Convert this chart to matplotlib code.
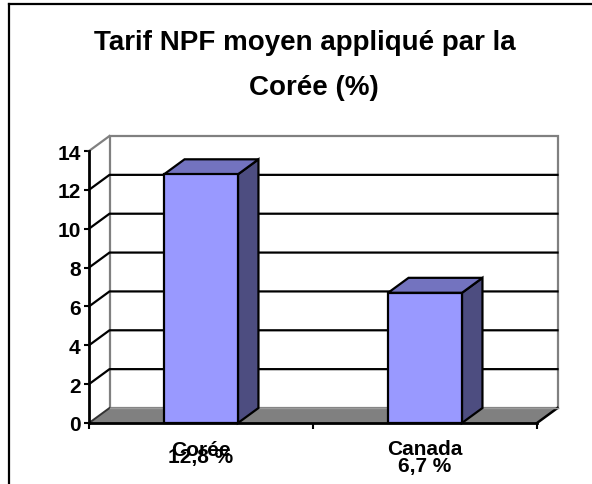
import matplotlib
matplotlib.use("Agg")
import matplotlib.pyplot as plt
from matplotlib.patches import Polygon, Rectangle
from matplotlib.lines import Line2D

plt.rcParams['font.family'] = ['Liberation Sans', 'DejaVu Sans']

# ---- data ----
categories = ["Corée", "Canada"]
values = [12.8, 6.7]
value_labels = ["12,8 %", "6,7 %"]
yticks = [0, 2, 4, 6, 8, 10, 12, 14]
title_lines = ["Tarif NPF moyen appliqué par la", "Corée (%)"]

W, H, DPI = 592, 485, 100
fig = plt.figure(figsize=(W / DPI, H / DPI), dpi=DPI)

# outer frame (left and top edges visible)
fig.add_artist(Line2D([9 / W, 9 / W], [0, 1 - 5 / H], color='black', lw=1.6,
                      transform=fig.transFigure))
fig.add_artist(Line2D([9 / W, 1], [1 - 5 / H, 1 - 5 / H], color='black', lw=1.6,
                      transform=fig.transFigure))

# title
fig.text(304.5 / W, 1 - 50 / H, title_lines[0], ha='center', va='baseline',
         fontsize=20, fontweight='bold')
fig.text(314 / W, 1 - 95 / H, title_lines[1], ha='center', va='baseline',
         fontsize=20, fontweight='bold')

# axes: front plane
x0, x1, y0, y1 = 89, 537, 424, 152
ax = fig.add_axes([x0 / W, (H - y0) / H, (x1 - x0) / W, (y0 - y1) / H])
ax.patch.set_alpha(0)
ymax = yticks[-1]
ncat = len(categories)
ax.set_xlim(0, ncat)
ax.set_ylim(0, ymax)

# depth offset (converted from pixels to data units)
DX = 20.5 / ((x1 - x0) / ncat)
DY = 15 / ((y0 - y1) / ymax)

GRAY = '#808080'
# left wall and back wall
ax.add_patch(Polygon([(0, 0), (0, ymax), (DX, ymax + DY), (DX, DY)],
                     closed=True, facecolor='white', edgecolor='none',
                     clip_on=False, zorder=1))
ax.add_patch(Rectangle((DX, DY), ncat, ymax, facecolor='white', edgecolor=GRAY,
                       lw=1.6, clip_on=False, zorder=1))
# floor
ax.add_patch(Polygon([(0, 0), (ncat, 0), (ncat + DX, DY), (DX, DY)],
                     closed=True, facecolor=GRAY, edgecolor='none',
                     clip_on=False, zorder=2))
ax.plot([0, DX], [0, DY], color='#333333', lw=1.4, clip_on=False, zorder=2)
ax.plot([ncat, ncat + DX], [0, DY], color='black', lw=1.8, clip_on=False, zorder=2)
ax.plot([DX, ncat + DX], [DY, DY], color='#9a9a9a', lw=1.0, clip_on=False, zorder=2)

# gridlines
for v in yticks[1:-1]:
    ax.plot([0, DX, ncat + DX], [v, v + DY, v + DY], color='black', lw=1.6,
            clip_on=False, zorder=3)
ax.plot([0, DX], [ymax, ymax + DY], color=GRAY, lw=1.6, clip_on=False, zorder=3)

# bars (3D columns)
FRONT, TOP, SIDE = '#9999FF', '#7373BF', '#4D4D80'
bw = 0.33
for i, v in enumerate(values):
    c = i + 0.5
    l, r = c - bw / 2, c + bw / 2
    ax.add_patch(Polygon([(r, 0), (r + DX, DY), (r + DX, v + DY), (r, v)],
                         closed=True, facecolor=SIDE, edgecolor='black', lw=1.6,
                         joinstyle='miter', clip_on=False, zorder=4))
    ax.add_patch(Polygon([(l, v), (r, v), (r + DX, v + DY), (l + DX, v + DY)],
                         closed=True, facecolor=TOP, edgecolor='black', lw=1.6,
                         joinstyle='miter', clip_on=False, zorder=4))
    ax.add_patch(Rectangle((l, 0), bw, v, facecolor=FRONT, edgecolor='black',
                           lw=1.6, joinstyle='miter', clip_on=False, zorder=5))

# axes lines and ticks
for s in ['top', 'right']:
    ax.spines[s].set_visible(False)
for s in ['left', 'bottom']:
    ax.spines[s].set_linewidth(2.0)
    ax.spines[s].set_color('black')
    ax.spines[s].set_zorder(6)
ax.set_yticks(yticks)
ax.set_yticklabels([str(t) for t in yticks], fontsize=15, fontweight='bold')
ax.set_xticks(range(ncat + 1))
ax.set_xticklabels([])
ax.tick_params(axis='y', direction='out', length=3.5, width=1.5, pad=2.5)
ax.tick_params(axis='x', direction='out', length=4, width=1.5)

# category labels
cat_off = [32, 31]
val_off = [39, 48]
for i, (cat, lab) in enumerate(zip(categories, value_labels)):
    c = i + 0.5
    ax.annotate(cat, xy=(c, 0), xytext=(0, -cat_off[i] * 0.72),
                textcoords='offset points', ha='center', va='baseline',
                fontsize=15, fontweight='bold', annotation_clip=False)
    ax.annotate(lab, xy=(c, 0), xytext=(0, -val_off[i] * 0.72),
                textcoords='offset points', ha='center', va='baseline',
                fontsize=15, fontweight='bold', annotation_clip=False)

fig.savefig('out.png', dpi=DPI)
